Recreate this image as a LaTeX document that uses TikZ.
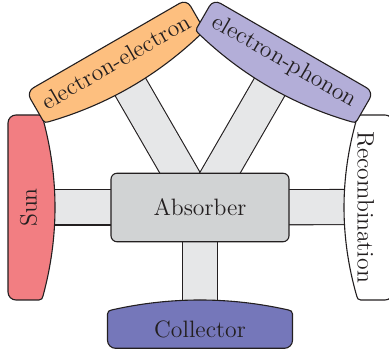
\documentclass[tikz,border=0pt]{standalone}
\usepackage{fontspec}
\usetikzlibrary{backgrounds}
\definecolor{sunfill}{HTML}{F27E82}
\definecolor{eefill}{HTML}{FDBF7F}
\definecolor{epfill}{HTML}{B3AED8}
\definecolor{colfill}{HTML}{7577BA}
\definecolor{absfill}{HTML}{D1D3D4}
\definecolor{barfill}{HTML}{E6E7E8}
\definecolor{ink}{HTML}{231F20}
\tikzset{
  shapeline/.style={draw=ink, line width=0.55pt},
  bar/.style={draw=ink, line width=0.55pt, double=barfill, double distance=17pt},
  absbox/.style={draw=ink, line width=0.55pt, fill=absfill, rounded corners=3pt,
    minimum width=89pt, minimum height=34.25pt, inner sep=0pt},
  lbl/.style={text=ink, font=\fontsize{11.85}{14}\selectfont, inner sep=1pt}
}
\newcommand{\outerbox}[5]{%
  \begin{scope}[shift={#1}, rotate=#2]
    \filldraw[shapeline, fill=#3]
      (-84.5,#4) -- (84.5,#4)
      arc[start angle=90, end angle=0, radius=8]
      -- (92.5,{4-#4})
      arc[start angle=0, end angle=-90, radius=4]
      .. controls (29.5,{-#4-4*#5/3}) and (-29.5,{-#4-4*#5/3}) .. (-88.5,{-#4})
      arc[start angle=270, end angle=180, radius=4]
      -- (-92.5,{#4-8})
      arc[start angle=180, end angle=90, radius=8]
      -- cycle;
  \end{scope}}
\begin{document}
\begin{tikzpicture}[x=0.5pt,y=0.5pt]
\useasboundingbox (0,0) rectangle (389,356);
\outerbox{(25.5,148.5)}{90}{sunfill}{17.5}{12}
\outerbox{(374.85,148.5)}{-90}{white}{18.15}{12.7}
\outerbox{(200,26.85)}{180}{colfill}{19.15}{10}
\outerbox{(115.75,294.42)}{30}{eefill}{18.5}{11}
\outerbox{(284.25,294.42)}{-30}{epfill}{18.5}{11}
\node[absbox, lbl] (abs) at (200,148.5) {Absorber};
\node[lbl, rotate=90] (sun) at (28.5,148.5) {Sun};
\node[lbl, rotate=-90] (rec) at (365.5,149) {Recombination};
\node[lbl] (col) at (200,26.85) {Collector};
\node[lbl, rotate=30] (ee) at (115.75,294.42) {electron-electron};
\node[lbl, rotate=-30] (ep) at (284.25,294.42) {electron-phonon};
\begin{scope}[on background layer]
  \foreach \t in {sun,rec,col,ee,ep}
    \draw[bar] (abs.center) -- (\t.center);
\end{scope}
\end{tikzpicture}
\end{document}
